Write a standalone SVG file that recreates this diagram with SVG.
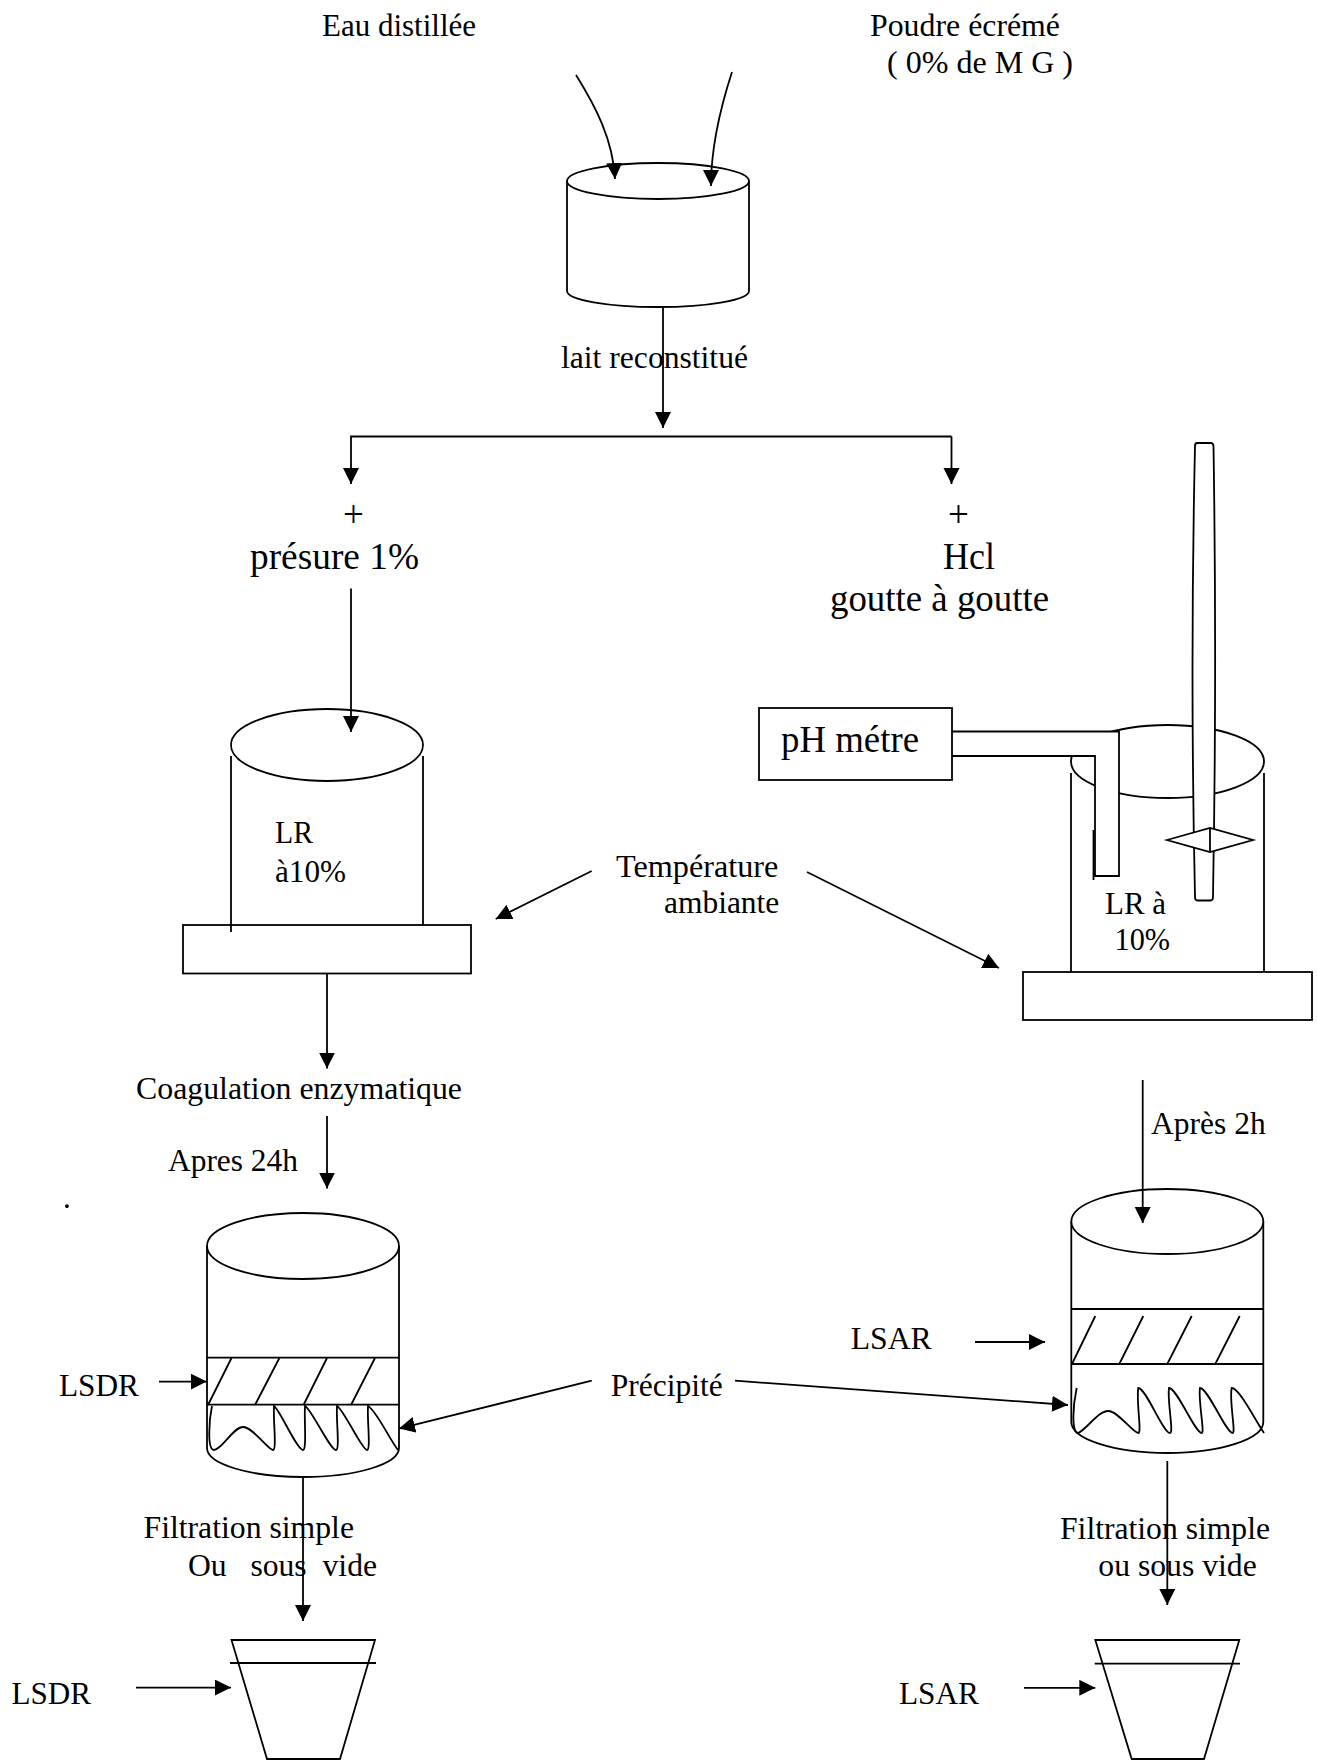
<svg xmlns="http://www.w3.org/2000/svg" width="1318" height="1760" viewBox="0 0 1318 1760">
<style>
text{font-family:"Liberation Serif","Times New Roman",serif;fill:#000;font-size:31px}
text.big{font-size:37px}
.s{fill:#fff;stroke:#000;stroke-width:1.8}
.o{fill:none;stroke:#000;stroke-width:1.8}
.c{fill:none;stroke:#000;stroke-width:1.8;marker-end:url(#ah)}
</style>
<defs>
<marker id="ah" markerUnits="userSpaceOnUse" markerWidth="17" markerHeight="17" refX="16" refY="8" orient="auto"><path d="M0 0L16 8L0 16Z" fill="#000"/></marker>
</defs>
<rect width="1318" height="1760" fill="#fff"/>
<g id="cuve-melange">
<path class="s" d="M567 181V291A91 16 0 0 0 749 291V181"/>
<ellipse class="s" cx="658" cy="181" rx="91" ry="18"/>
</g>
<g id="cuve-presure">
<rect class="s" x="183" y="925" width="288" height="48.500"/>
<ellipse class="s" cx="327" cy="745" rx="96" ry="36"/>
<path class="o" d="M231 756V932M423 756V925"/>
</g>
<g id="cuve-hcl">
<rect class="s" x="1023" y="972" width="289" height="48"/>
<ellipse class="s" cx="1167.500" cy="761.500" rx="96.500" ry="36.500"/>
<path class="o" d="M1071 773V972M1264 773V972"/>
</g>
<g id="ph-metre">
<path class="s" d="M952 731.500H1119V876H1095V756H952"/>
<rect class="s" x="759" y="708" width="193" height="72"/>
<path class="o" d="M1093.500 830V880"/>
</g>
<g id="thermometre">
<path class="s" d="M1197 443H1211Q1213 443 1213.500 446Q1217 670 1213 897Q1213 900 1211 900.500H1197Q1195 900 1195 897Q1190 670 1195 446Q1195 443 1197 443Z"/>
<path class="s" d="M1167 840L1210 828L1253 840L1210 852Z"/>
<path class="o" d="M1210 828V852"/>
</g>
<g id="cylindre-lsdr">
<path class="s" d="M207 1246V1448A96 29 0 0 0 399 1448V1246"/>
<ellipse class="s" cx="303" cy="1246" rx="96" ry="33"/>
<path class="o" d="M207 1357.600H399M207 1404.600H399"/>
<path class="o" d="M231.500 1358L208 1405M279.400 1358L255 1405M327 1358L303.500 1405M375 1358L351 1405"/>
<path class="o" d="M212 1406C209 1420 207 1450 214 1450C222 1450 233 1427 243 1427C253 1427 268 1450 273 1450C277 1450 273 1420 274 1406C280 1410 297 1450 303 1450C307 1450 304 1420 305 1406C312 1410 330 1450 336 1450C340 1450 336 1420 337 1406C344 1410 362 1450 367 1450C371 1450 367 1420 368 1406C376 1410 390 1440 398 1450"/>
</g>
<g id="cylindre-lsar">
<path class="s" d="M1071.300 1221.500V1422A96 31 0 0 0 1263.300 1422V1221.500"/>
<ellipse class="s" cx="1167.300" cy="1221.500" rx="96" ry="32.500"/>
<path class="o" d="M1071.300 1309H1263.300M1071.300 1364H1263.300"/>
<path class="o" d="M1095.300 1316L1072 1364M1143.300 1316L1119.300 1364M1191.700 1316L1167.300 1364M1239.700 1316L1215.300 1364"/>
<path class="o" d="M1076.700 1388C1073 1405 1071 1433 1078.300 1433C1088 1428 1098 1411 1108.300 1411C1118 1411 1133 1433 1138.300 1433C1142 1433 1136 1400 1138.300 1388C1146 1388 1163 1433 1170 1433C1174 1433 1167 1400 1169 1388C1177 1388 1195 1433 1201.700 1433C1205 1433 1198 1400 1200 1388C1208 1388 1226 1433 1232.700 1433C1236 1433 1229 1400 1231.700 1388C1239 1388 1254 1418 1264 1433"/>
</g>
<g id="recipient-lsdr">
<path class="s" d="M231.500 1640H375L340 1759H267Z"/>
<path class="o" d="M230 1663H376"/>
</g>
<g id="recipient-lsar">
<path class="s" d="M1095.300 1640H1239.300L1204 1759H1131.700Z"/>
<path class="o" d="M1094.700 1663.600H1240"/>
</g>
<g id="connectors">
<path class="c" d="M576 75C596 107 613 140 615 179"/>
<path class="c" d="M732 72C718 115 711 150 711 186"/>
<path class="c" d="M663 306V428"/>
<path class="c" d="M951.500 436.500H351V484"/>
<path class="c" d="M951.500 436.500V484"/>
<path class="c" d="M351 588.600V732"/>
<path class="c" d="M591.700 871L495.700 919"/>
<path class="c" d="M807 872L999 968"/>
<path class="c" d="M327 973.500V1068.600"/>
<path class="c" d="M327 1116V1188.600"/>
<path class="c" d="M1142.700 1080V1223"/>
<path class="c" d="M159 1381.600H206.700"/>
<path class="c" d="M591.700 1380.700L399 1428.600"/>
<path class="c" d="M735 1380.700L1068 1405"/>
<path class="c" d="M975 1342H1045"/>
<path class="c" d="M303 1477V1621"/>
<path class="c" d="M1167.300 1461V1605"/>
<path class="c" d="M136 1687.600H231"/>
<path class="c" d="M1024 1687.800H1095.300"/>
</g>
<g id="labels">
<text x="322" y="36" textLength="154" lengthAdjust="spacingAndGlyphs">Eau distillée</text>
<text x="870" y="36" textLength="190" lengthAdjust="spacingAndGlyphs">Poudre écrémé</text>
<text x="887" y="73" textLength="186" lengthAdjust="spacingAndGlyphs">( 0% de M G )</text>
<text x="561" y="368" textLength="187" lengthAdjust="spacingAndGlyphs">lait reconstitué</text>
<text class="big" x="343" y="526.500">+</text>
<text class="big" x="948" y="526.500">+</text>
<text class="big" x="250" y="569" textLength="169" lengthAdjust="spacingAndGlyphs">présure 1%</text>
<text class="big" x="943" y="569" textLength="52" lengthAdjust="spacingAndGlyphs">Hcl</text>
<text class="big" x="830" y="611" textLength="219" lengthAdjust="spacingAndGlyphs">goutte à goutte</text>
<text class="big" x="781" y="752" textLength="138" lengthAdjust="spacingAndGlyphs">pH métre</text>
<text x="275" y="843" textLength="38" lengthAdjust="spacingAndGlyphs">LR</text>
<text x="275" y="882" textLength="71" lengthAdjust="spacingAndGlyphs">à10%</text>
<text x="616" y="876.700" textLength="162.300" lengthAdjust="spacingAndGlyphs">Température</text>
<text x="664" y="912.700" textLength="115.300" lengthAdjust="spacingAndGlyphs">ambiante</text>
<text x="1105" y="913.500" textLength="61" lengthAdjust="spacingAndGlyphs">LR à</text>
<text x="1114.500" y="950" textLength="55.500" lengthAdjust="spacingAndGlyphs">10%</text>
<text x="136" y="1099" textLength="326" lengthAdjust="spacingAndGlyphs">Coagulation enzymatique</text>
<text x="168" y="1171" textLength="130" lengthAdjust="spacingAndGlyphs">Apres 24h</text>
<text x="1151" y="1134" textLength="114.700" lengthAdjust="spacingAndGlyphs">Après 2h</text>
<text x="63" y="1208" font-size="20">.</text>
<text x="850.700" y="1349" textLength="81" lengthAdjust="spacingAndGlyphs">LSAR</text>
<text x="59" y="1396" textLength="80" lengthAdjust="spacingAndGlyphs">LSDR</text>
<text x="610.700" y="1396" textLength="112" lengthAdjust="spacingAndGlyphs">Précipité</text>
<text x="143.500" y="1538" textLength="210.500" lengthAdjust="spacingAndGlyphs">Filtration simple</text>
<text x="188" y="1576" xml:space="preserve" textLength="189" lengthAdjust="spacingAndGlyphs">Ou   sous  vide</text>
<text x="1060" y="1539" textLength="210" lengthAdjust="spacingAndGlyphs">Filtration simple</text>
<text x="1098.300" y="1576" textLength="158.400" lengthAdjust="spacingAndGlyphs">ou sous vide</text>
<text x="11.500" y="1703.500" textLength="79.500" lengthAdjust="spacingAndGlyphs">LSDR</text>
<text x="899" y="1703.700" textLength="80" lengthAdjust="spacingAndGlyphs">LSAR</text>
</g>
</svg>
